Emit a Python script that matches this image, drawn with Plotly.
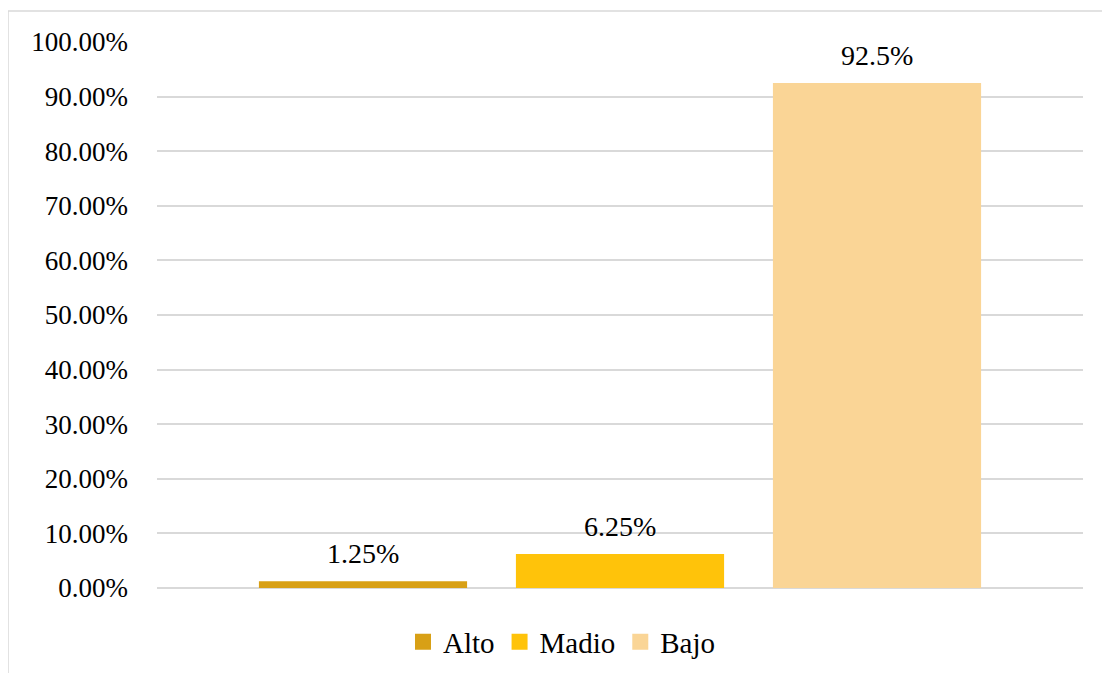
import plotly.graph_objects as go

series = ["Alto", "Madio", "Bajo"]
values = [0.0125, 0.0625, 0.925]
labels = ["1.25%", "6.25%", "92.5%"]
colors = ["#D8A016", "#FFC30A", "#FAD596"]
positions = [0, 1, 2]

FONT = "Liberation Serif, Times New Roman, serif"

fig = go.Figure()
for name, xpos, v, c in zip(series, positions, values, colors):
    fig.add_trace(go.Bar(
        x=[xpos], y=[v], name=name, width=0.81,
        marker=dict(color=c, line=dict(width=0)),
        showlegend=False,
    ))
# legend entries with larger square swatches
for name, c in zip(series, colors):
    fig.add_trace(go.Scatter(
        x=[None], y=[None], mode="markers", name=name,
        marker=dict(symbol="square", size=16, color=c),
        showlegend=True,
    ))
# value labels above the bars
for xpos, v, lab in zip(positions, values, labels):
    fig.add_annotation(x=xpos, y=v, text=lab, showarrow=False,
                       yanchor="bottom", yshift=10,
                       font=dict(family=FONT, size=28, color="#000000"))

# page has an 8px body margin: figure origin is at (8, 8) in the screenshot
OFF = 8
W, H = 1110 - OFF, 673 - OFF
L, T = 157 - OFF, 42 - OFF
R = W - (1083 - OFF)
B = H - (588 - OFF)
pw, ph = W - L - R, H - T - B

half = (pw / 257) / 2

fig.update_layout(
    width=W, height=H,
    margin=dict(l=L, r=R, t=T, b=B, autoexpand=False),
    paper_bgcolor="white", plot_bgcolor="white",
    barmode="overlay",
    font=dict(family=FONT, size=27, color="#000000"),
    showlegend=True,
    legend=dict(
        orientation="h", x=(562 - 157) / pw, xanchor="center",
        y=(588 - 642) / ph, yanchor="middle",
        font=dict(family=FONT, size=29), itemwidth=30,
        traceorder="normal", tracegroupgap=0,
    ),
    xaxis=dict(range=[1 - half, 1 + half], showticklabels=False,
               showgrid=False, zeroline=False, showline=False, ticks=""),
    yaxis=dict(range=[0, 1], dtick=0.1, tickformat=".2%",
               showgrid=True, gridcolor="#D9D9D9", gridwidth=1.5,
               zeroline=True, zerolinecolor="#D9D9D9", zerolinewidth=1.5,
               showline=False, ticks="", ticklabelstandoff=28,
               tickfont=dict(family=FONT, size=27)),
    shapes=[dict(type="rect", xref="paper", yref="paper",
                 x0=(8 - 157) / pw, x1=1.2, y0=-0.3, y1=(588 - 11) / ph,
                 line=dict(color="#D9D9D9", width=1.5), layer="below")],
)

fig.write_html("out.html")
